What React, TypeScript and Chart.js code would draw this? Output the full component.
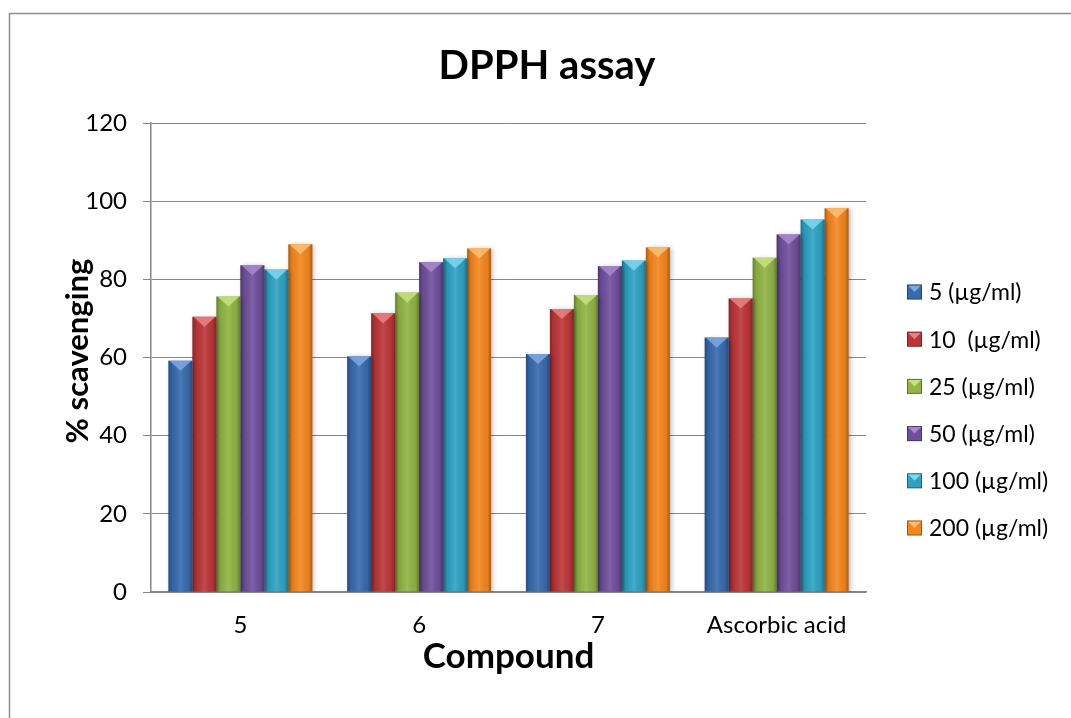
import React, { useEffect, useRef } from "react";
import { Chart, registerables } from "chart.js";

Chart.register(...registerables);

const categories = ["5", "6", "7", "Ascorbic acid"];
const seriesLabels = [
  "5 (µg/ml)",
  "10  (µg/ml)",
  "25 (µg/ml)",
  "50 (µg/ml)",
  "100 (µg/ml)",
  "200 (µg/ml)",
];
const conc5 = [59.2, 60.3, 60.9, 65.1];
const conc10 = [70.4, 71.3, 72.4, 75.1];
const conc25 = [75.6, 76.6, 76.0, 85.5];
const conc50 = [83.6, 84.4, 83.4, 91.5];
const conc100 = [82.5, 85.4, 84.8, 95.3];
const conc200 = [89.0, 87.9, 88.2, 98.2];
const yTickValues = [0, 20, 40, 60, 80, 100, 120];

const seriesValues = [conc5, conc10, conc25, conc50, conc100, conc200];
const seriesColors = ["#376AAE", "#BC3537", "#91B444", "#6F4F9B", "#2DA2C3", "#F5861D"];
const seriesLight = ["#7FA8DE", "#E98284", "#C6E27F", "#A88ACF", "#7FD6EE", "#FBC076"];

const FONT = "Lato, 'Open Sans', sans-serif";

const decorPlugin = {
  id: "decor",
  beforeDraw(chart: any) {
    const ctx = chart.ctx;
    ctx.save();
    ctx.fillStyle = "#ffffff";
    ctx.fillRect(0, 0, chart.width, chart.height);
    ctx.strokeStyle = "#8e8e8e";
    ctx.lineWidth = 1.5;
    ctx.beginPath();
    ctx.moveTo(9.5, chart.height + 2);
    ctx.lineTo(9.5, 13.5);
    ctx.lineTo(chart.width + 2, 13.5);
    ctx.stroke();
    ctx.restore();
  },
  beforeDatasetsDraw(chart: any) {
    const ctx = chart.ctx;
    ctx.save();
    ctx.shadowColor = "rgba(0,0,0,0.28)";
    ctx.shadowBlur = 5;
    ctx.shadowOffsetX = 2;
    ctx.shadowOffsetY = 1;
  },
  afterDatasetsDraw(chart: any) {
    const ctx = chart.ctx;
    ctx.restore();
    ctx.save();
    chart.data.datasets.forEach((ds: any, i: number) => {
      const meta = chart.getDatasetMeta(i);
      meta.data.forEach((bar: any) => {
        const { x, y, base, width } = bar.getProps(["x", "y", "base", "width"], true);
        const l = x - width / 2;
        const r = x + width / 2;
        const g = ctx.createLinearGradient(l, 0, r, 0);
        g.addColorStop(0, "rgba(0,0,0,0.30)");
        g.addColorStop(0.15, "rgba(0,0,0,0.06)");
        g.addColorStop(0.5, "rgba(255,255,255,0.10)");
        g.addColorStop(0.85, "rgba(0,0,0,0.06)");
        g.addColorStop(1, "rgba(0,0,0,0.32)");
        ctx.fillStyle = g;
        ctx.fillRect(l, y, width, base - y);
        ctx.beginPath();
        ctx.moveTo(l + 1, y);
        ctx.lineTo(r - 1, y);
        ctx.lineTo(x, y + width * 0.42);
        ctx.closePath();
        ctx.fillStyle = seriesLight[i];
        ctx.globalAlpha = 0.85;
        ctx.fill();
        ctx.globalAlpha = 1;
      });
    });
    ctx.restore();
  },
  afterDraw(chart: any) {
    const ctx = chart.ctx;
    const area = chart.chartArea;
    ctx.save();
    ctx.fillStyle = "#000000";
    // title
    ctx.font = `bold 40px ${FONT}`;
    ctx.textAlign = "center";
    ctx.textBaseline = "alphabetic";
    ctx.fillText("DPPH assay", 547, 79);
    // x title
    ctx.font = `bold 35px ${FONT}`;
    ctx.fillText("Compound", (area.left + area.right) / 2, 668);
    // y title
    ctx.save();
    ctx.translate(88, 351);
    ctx.rotate(-Math.PI / 2);
    ctx.font = `bold 31px ${FONT}`;
    ctx.fillText("% scavenging", 0, 0);
    ctx.restore();
    // legend
    ctx.font = `23px ${FONT}`;
    ctx.textAlign = "left";
    ctx.textBaseline = "middle";
    chart.data.datasets.forEach((ds: any, i: number) => {
      const cy = 292 + i * 47.2;
      const bx = 907;
      const bs = 15;
      const by = cy - bs / 2;
      ctx.fillStyle = seriesColors[i];
      ctx.fillRect(bx, by, bs, bs);
      ctx.beginPath();
      ctx.moveTo(bx + 1, by + 1);
      ctx.lineTo(bx + bs - 1, by + 1);
      ctx.lineTo(bx + bs / 2, by + bs * 0.5);
      ctx.closePath();
      ctx.fillStyle = seriesLight[i];
      ctx.fill();
      ctx.strokeStyle = "rgba(0,0,0,0.35)";
      ctx.lineWidth = 1;
      ctx.strokeRect(bx + 0.5, by + 0.5, bs - 1, bs - 1);
      ctx.fillStyle = "#000000";
      ctx.fillText(ds.label, 929, cy + 1);
    });
    ctx.restore();
  },
};

export default function App() {
  const canvasRef = useRef<HTMLCanvasElement | null>(null);

  useEffect(() => {
    if (!canvasRef.current) return;
    const chart = new Chart(canvasRef.current, {
      type: "bar",
      data: {
        labels: categories,
        datasets: seriesValues.map((vals, i) => ({
          label: seriesLabels[i],
          data: vals,
          backgroundColor: seriesColors[i],
          borderWidth: 0,
          barPercentage: 1,
          categoryPercentage: 0.805,
        })),
      },
      options: {
        responsive: false,
        animation: false,
        layout: { padding: { left: 0, top: 123, right: 205, bottom: 0 } },
        plugins: {
          legend: { display: false },
          title: { display: false },
          tooltip: { enabled: false },
        },
        scales: {
          x: {
            grid: { display: false, drawTicks: false },
            border: { display: true, color: "#868686", width: 1.5 },
            ticks: { color: "#000", font: { family: FONT, size: 24 }, padding: 19, maxRotation: 0 },
            afterFit: (s: any) => {
              s.height = 126;
            },
          },
          y: {
            min: 0,
            max: 120,
            afterBuildTicks: (s: any) => {
              s.ticks = yTickValues.map((v) => ({ value: v }));
            },
            grid: { color: "#868686", lineWidth: 1, tickLength: 8, drawTicks: true },
            border: { display: true, color: "#868686", width: 1.5 },
            ticks: { color: "#000", font: { family: FONT, size: 24 }, padding: 16 },
            afterFit: (s: any) => {
              s.width = 151;
            },
          },
        },
      },
      plugins: [decorPlugin],
    });
    return () => chart.destroy();
  }, []);

  return (
    <div style={{ position: "absolute", left: 0, top: 0, width: 1071, height: 718, background: "#fff" }}>
      <canvas ref={canvasRef} width={1071} height={718} />
    </div>
  );
}
